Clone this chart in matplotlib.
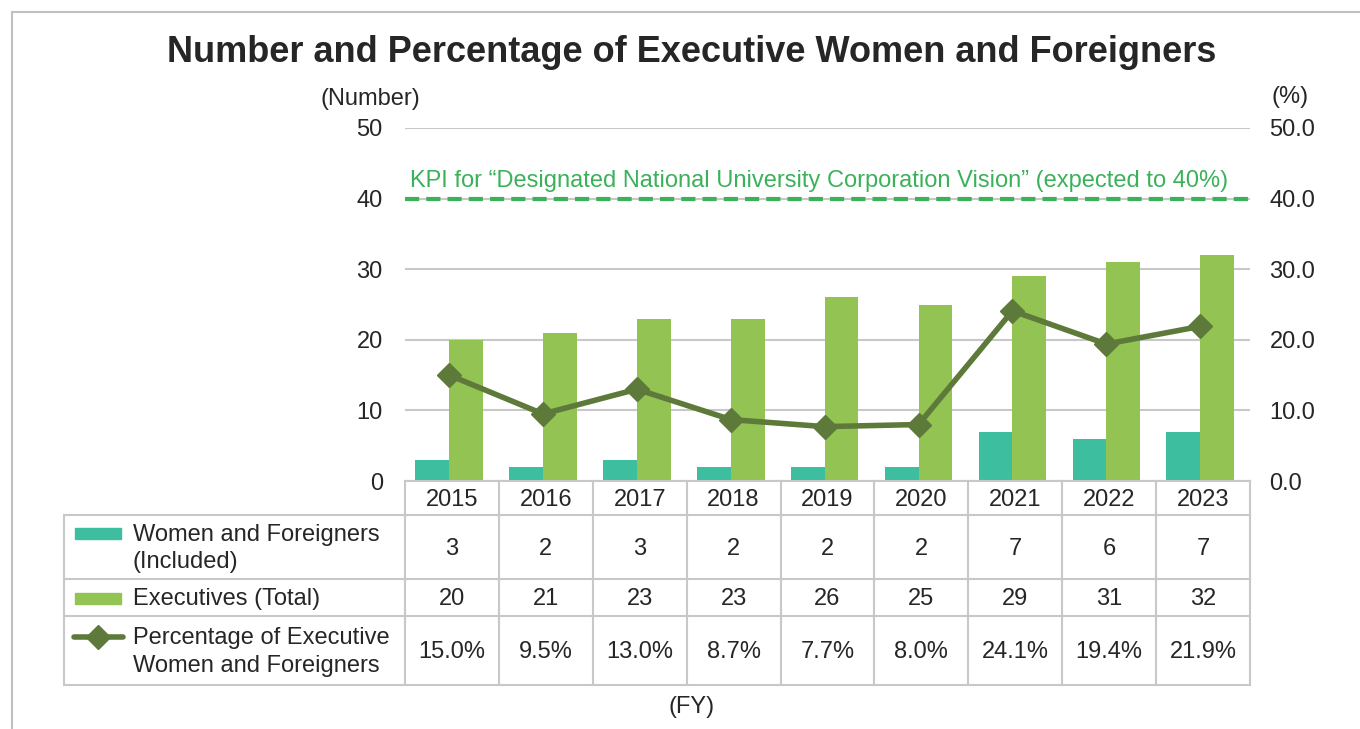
import matplotlib
matplotlib.use("Agg")
import matplotlib.pyplot as plt
from matplotlib.patches import Rectangle
from matplotlib.lines import Line2D

plt.rcParams["font.family"] = ["Liberation Sans", "DejaVu Sans"]

# ── Data ─────────────────────────────────────────────────────────────────────
years      = ["2015", "2016", "2017", "2018", "2019", "2020", "2021", "2022", "2023"]
women_for  = [3, 2, 3, 2, 2, 2, 7, 6, 7]
executives = [20, 21, 23, 23, 26, 25, 29, 31, 32]
pct        = [15.0, 9.5, 13.0, 8.7, 7.7, 8.0, 24.1, 19.4, 21.9]
kpi        = 40

c_teal  = "#3dbf9f"
c_green = "#92c353"
c_line  = "#5e7a3a"
c_kpi   = "#3bb15a"
c_grid  = "#c8c8c8"
c_text  = "#262626"
fs      = 17

W, H = 1360, 729
fig = plt.figure(figsize=(W / 100, H / 100), dpi=100)

def fx(px): return px / W
def fy(py): return 1 - py / H

# outer frame
fig.add_artist(Line2D([fx(12), fx(12)], [fy(12), 0], color="#c0c0c0", lw=1.5))
fig.add_artist(Line2D([fx(12), 1], [fy(12), fy(12)], color="#c0c0c0", lw=1.5))

# ── Main axes ────────────────────────────────────────────────────────────────
x0, x1, ytop, ybot = 405, 1250, 128, 481
ax = fig.add_axes([fx(x0), fy(ybot), (x1 - x0) / W, (ybot - ytop) / H])
n = len(years)
xs = list(range(n))
ax.set_xlim(-0.5, n - 0.5)
ax.set_ylim(0, 50)
for s in ax.spines.values():
    s.set_visible(False)
ax.set_yticks(range(0, 51, 10))
ax.tick_params(axis="y", length=0, labelsize=fs, labelcolor=c_text, pad=16)
ax.set_xticks([])
ax.grid(True, axis="y", color=c_grid, lw=1.5)
ax.set_axisbelow(True)

bw = 0.36
off = -0.03
ax.bar([x - bw / 2 + off for x in xs], women_for, width=bw, color=c_teal, zorder=2)
ax.bar([x + bw / 2 + off for x in xs], executives, width=bw, color=c_green, zorder=2)

ax2 = ax.twinx()
ax2.set_ylim(0, 50)
for s in ax2.spines.values():
    s.set_visible(False)
ax2.set_yticks(range(0, 51, 10))
ax2.set_yticklabels([f"{v:.1f}" for v in range(0, 51, 10)])
ax2.tick_params(axis="y", length=0, labelsize=fs, labelcolor=c_text, pad=14)

ax2.axhline(kpi, color=c_kpi, lw=3, linestyle=(0, (3.4, 1.7)), zorder=3)
ax2.text(-0.45, kpi + 1.0, "KPI for \u201cDesignated National University Corporation Vision\u201d (expected to 40%)",
         color=c_kpi, fontsize=fs, va="bottom", ha="left")
ax2.plot([x + off for x in xs], pct, color=c_line, lw=4, marker="D", markersize=12, zorder=4)

fig.text(fx(692), fy(53), "Number and Percentage of Executive Women and Foreigners",
         fontsize=26, fontweight="bold", ha="center", va="center", color=c_text)
fig.text(fx(370), fy(99), "(Number)", fontsize=fs, ha="center", va="center", color=c_text)
fig.text(fx(1290), fy(97), "(%)", fontsize=fs, ha="center", va="center", color=c_text)
fig.text(fx(692), fy(707), "(FY)", fontsize=fs, ha="center", va="center", color=c_text)

# ── Data table below ─────────────────────────────────────────────────────────
tl, tb = 64, 685
tax = fig.add_axes([fx(tl), fy(tb), (x1 - tl) / W, (tb - ybot) / H])
cw = (x1 - x0) / n
tax.set_xlim(-0.5 - (x0 - tl) / cw, n - 0.5)
tax.set_ylim(tb - ybot, 0)
tax.axis("off")

rows = [0, 34, 98, 135, 204]
lx = -0.5 - (x0 - tl) / cw
# horizontal lines
tax.plot([-0.5, n - 0.5], [rows[0]] * 2, color=c_grid, lw=1.5, clip_on=False)
for r in rows[1:]:
    tax.plot([lx, n - 0.5], [r] * 2, color=c_grid, lw=1.5, clip_on=False)
# vertical lines
for i in range(n + 1):
    tax.plot([i - 0.5] * 2, [0, rows[-1]], color=c_grid, lw=1.5, clip_on=False)
tax.plot([lx] * 2, [rows[1], rows[-1]], color=c_grid, lw=1.5, clip_on=False)

mids = [(rows[i] + rows[i + 1]) / 2 for i in range(4)]
for i, y in enumerate(years):
    tax.text(i, mids[0] + 1.5, y, ha="center", va="center", fontsize=fs, color=c_text)
    tax.text(i, mids[1] + 2, str(women_for[i]), ha="center", va="center", fontsize=fs, color=c_text)
    tax.text(i, mids[2] + 1.5, str(executives[i]), ha="center", va="center", fontsize=fs, color=c_text)
    tax.text(i, mids[3] + 1.5, f"{pct[i]:.1f}%", ha="center", va="center", fontsize=fs, color=c_text)

def tx(px): return lx + (px - tl) / cw
def ty(py): return py - ybot

tax.add_patch(Rectangle((tx(75), ty(528)), (121 - 75) / cw, 11, color=c_teal, clip_on=False))
tax.add_patch(Rectangle((tx(75), ty(593)), (121 - 75) / cw, 11, color=c_green, clip_on=False))
tax.plot([tx(74), tx(123)], [ty(637)] * 2, color=c_line, lw=4, clip_on=False, solid_capstyle="round")
tax.plot([tx(98)], [ty(637)], marker="D", color=c_line, markersize=12, clip_on=False)

tax.text(tx(133), mids[1] + 1.5, "Women and Foreigners\n(Included)", ha="left", va="center",
         fontsize=fs, color=c_text, linespacing=1.3)
tax.text(tx(133), mids[2] + 1.5, "Executives (Total)", ha="left", va="center", fontsize=fs, color=c_text)
tax.text(tx(133), mids[3] + 1.5, "Percentage of Executive\nWomen and Foreigners", ha="left", va="center",
         fontsize=fs, color=c_text, linespacing=1.3)

fig.savefig("out.png", dpi=100)
